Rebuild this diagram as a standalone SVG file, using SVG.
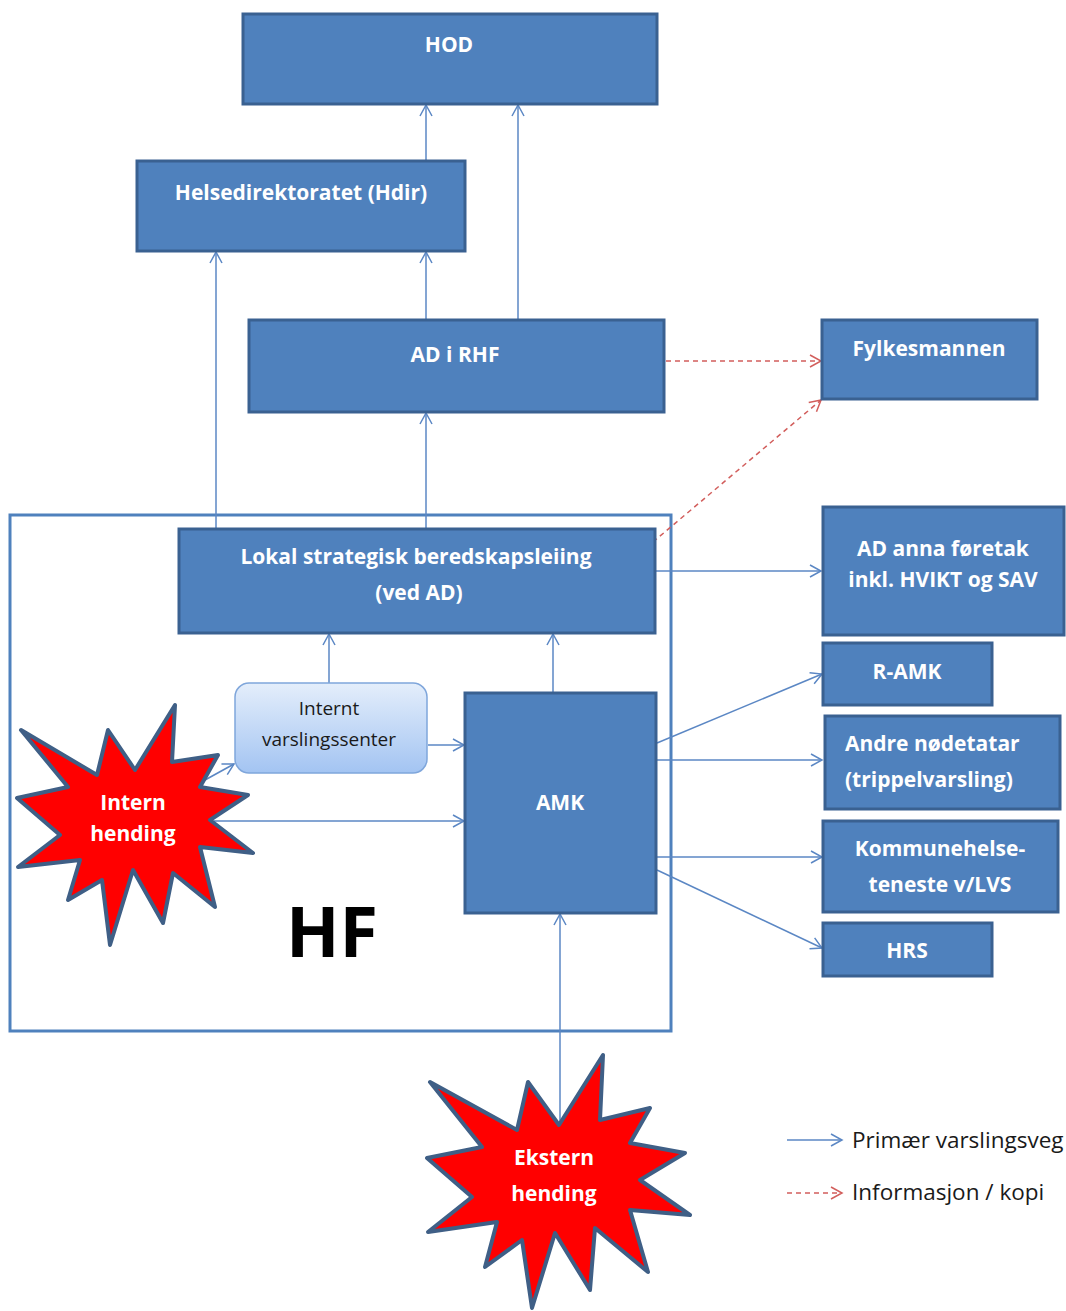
<svg xmlns="http://www.w3.org/2000/svg" width="1066" height="1311" viewBox="0 0 1066 1311">
<defs>
<linearGradient id="gIvs" x1="0" y1="0" x2="0" y2="1">
<stop offset="0" stop-color="#E4EEFB"/>
<stop offset="1" stop-color="#A3C4F2"/>
</linearGradient>
<marker id="aBlue" markerWidth="14" markerHeight="14" refX="12" refY="7" orient="auto" markerUnits="userSpaceOnUse">
<path d="M1,1 L12,7 L1,13" fill="none" stroke="#5B87C4" stroke-width="1.5"/>
</marker>
<marker id="aRed" markerWidth="14" markerHeight="14" refX="12" refY="7" orient="auto" markerUnits="userSpaceOnUse">
<path d="M1,1 L12,7 L1,13" fill="none" stroke="#D25E5C" stroke-width="1.5"/>
</marker>
</defs>
<style>
.box{fill:#4F81BD;stroke:#3A6191;stroke-width:3}
.wt{fill:#FFFFFF;font-family:"Open Sans","Liberation Sans",sans-serif;font-weight:bold;font-size:21px;text-anchor:middle}
.dt{fill:#1A1A1A;font-family:"Open Sans","Liberation Sans",sans-serif;font-size:19px;text-anchor:middle}
.lg{fill:#1A1A1A;font-family:"Open Sans","Liberation Sans",sans-serif;font-size:22.5px}
.ln{stroke:#5B87C4;stroke-width:1.5;fill:none;marker-end:url(#aBlue)}
.dl{stroke:#D25E5C;stroke-width:1.5;fill:none;stroke-dasharray:5 4;marker-end:url(#aRed)}
.star{fill:#FF0000;stroke:#3F5F86;stroke-width:4;stroke-linejoin:round}
</style>
<rect width="1066" height="1311" fill="#FFFFFF"/>

<g id="hf">
<rect x="10" y="515" width="661" height="516" fill="none" stroke="#4F81BD" stroke-width="3"/>
<text x="332" y="957" font-family="'Open Sans','Liberation Sans',sans-serif" font-weight="bold" font-size="70" text-anchor="middle" fill="#000">HF</text>
</g>

<g id="connectors">
<line class="ln" x1="426" y1="161" x2="426" y2="105"/>
<line class="ln" x1="518" y1="320" x2="518" y2="105"/>
<line class="ln" x1="426" y1="320" x2="426" y2="252"/>
<line class="ln" x1="216" y1="529" x2="216" y2="252"/>
<line class="ln" x1="426" y1="529" x2="426" y2="413"/>
<line class="dl" x1="666" y1="361" x2="821" y2="361"/>
<line class="dl" x1="653" y1="542" x2="821" y2="400"/>
<line class="ln" x1="656" y1="571" x2="821" y2="571"/>
<line class="ln" x1="329" y1="683" x2="329" y2="634"/>
<line class="ln" x1="553" y1="693" x2="553" y2="634"/>
<line class="ln" x1="428" y1="745" x2="464" y2="745"/>
<line class="ln" x1="205" y1="780" x2="234" y2="764"/>
<line class="ln" x1="214" y1="821" x2="464" y2="821"/>
<line class="ln" x1="657" y1="743" x2="822" y2="674"/>
<line class="ln" x1="657" y1="760" x2="822" y2="760"/>
<line class="ln" x1="657" y1="857" x2="822" y2="857"/>
<line class="ln" x1="657" y1="870" x2="822" y2="948"/>
<line class="ln" x1="560" y1="1126" x2="560" y2="914"/>
</g>

<g id="hod"><rect class="box" x="243" y="14" width="414" height="90"/><text class="wt" x="449" y="52">HOD</text></g>
<g id="hdir"><rect class="box" x="137" y="161" width="328" height="90"/><text class="wt" x="301" y="200">Helsedirektoratet (Hdir)</text></g>
<g id="adrhf"><rect class="box" x="249" y="320" width="415" height="92"/><text class="wt" x="455" y="362">AD i RHF</text></g>
<g id="fylkesmannen"><rect class="box" x="822" y="320" width="215" height="79"/><text class="wt" x="929" y="356">Fylkesmannen</text></g>
<g id="lokal"><rect class="box" x="179" y="529" width="476" height="104"/><text class="wt" x="416" y="564">Lokal strategisk beredskapsleiing</text><text class="wt" x="419" y="600">(ved AD)</text></g>
<g id="adanna"><rect class="box" x="823" y="507" width="241" height="128"/><text class="wt" x="943" y="556">AD anna føretak</text><text class="wt" x="943" y="587">inkl. HVIKT og SAV</text></g>
<g id="ramk"><rect class="box" x="823" y="643" width="169" height="62"/><text class="wt" x="907" y="679">R-AMK</text></g>
<g id="andre"><rect class="box" x="825" y="716" width="235" height="93"/><text class="wt" x="845" y="751" style="text-anchor:start">Andre nødetatar</text><text class="wt" x="845" y="787" style="text-anchor:start">(trippelvarsling)</text></g>
<g id="kommune"><rect class="box" x="823" y="821" width="235" height="91"/><text class="wt" x="940" y="856">Kommunehelse-</text><text class="wt" x="940" y="892">teneste v/LVS</text></g>
<g id="hrs"><rect class="box" x="823" y="923" width="169" height="53"/><text class="wt" x="907" y="958">HRS</text></g>
<g id="amk"><rect class="box" x="465" y="693" width="191" height="220"/><text class="wt" x="560" y="810">AMK</text></g>
<g id="ivs"><rect x="235" y="683" width="192" height="90" rx="14" fill="url(#gIvs)" stroke="#7FA6DB" stroke-width="1.5"/><text class="dt" x="329" y="715">Internt</text><text class="dt" x="329" y="746">varslingssenter</text></g>

<g id="intern">
<polygon class="star" points="21,730 97,775 108,730 135,770 175,705 172,762 218,755 200,787 248,795 210,820 253,853 200,847 215,907 173,873 163,923 133,870 110,945 102,880 68,900 80,860 18,867 60,835 17,798 68,787"/>
<text class="wt" x="133" y="810">Intern</text><text class="wt" x="133" y="841">hending</text>
</g>
<g id="ekstern">
<polygon class="star" points="430,1082 517,1130 528,1082 559,1125 603,1055 600,1120 650,1108 630,1143 685,1153 640,1180 690,1215 630,1210 648,1272 595,1228 590,1290 555,1233 532,1308 522,1240 485,1267 497,1222 428,1232 472,1197 427,1158 482,1147"/>
<text class="wt" x="554" y="1165">Ekstern</text><text class="wt" x="554" y="1201">hending</text>
</g>

<g id="legend">
<line class="ln" x1="787" y1="1140" x2="842" y2="1140"/>
<text class="lg" x="852" y="1148">Primær varslingsveg</text>
<line class="dl" x1="787" y1="1193" x2="842" y2="1193"/>
<text class="lg" x="852" y="1200">Informasjon / kopi</text>
</g>
</svg>
